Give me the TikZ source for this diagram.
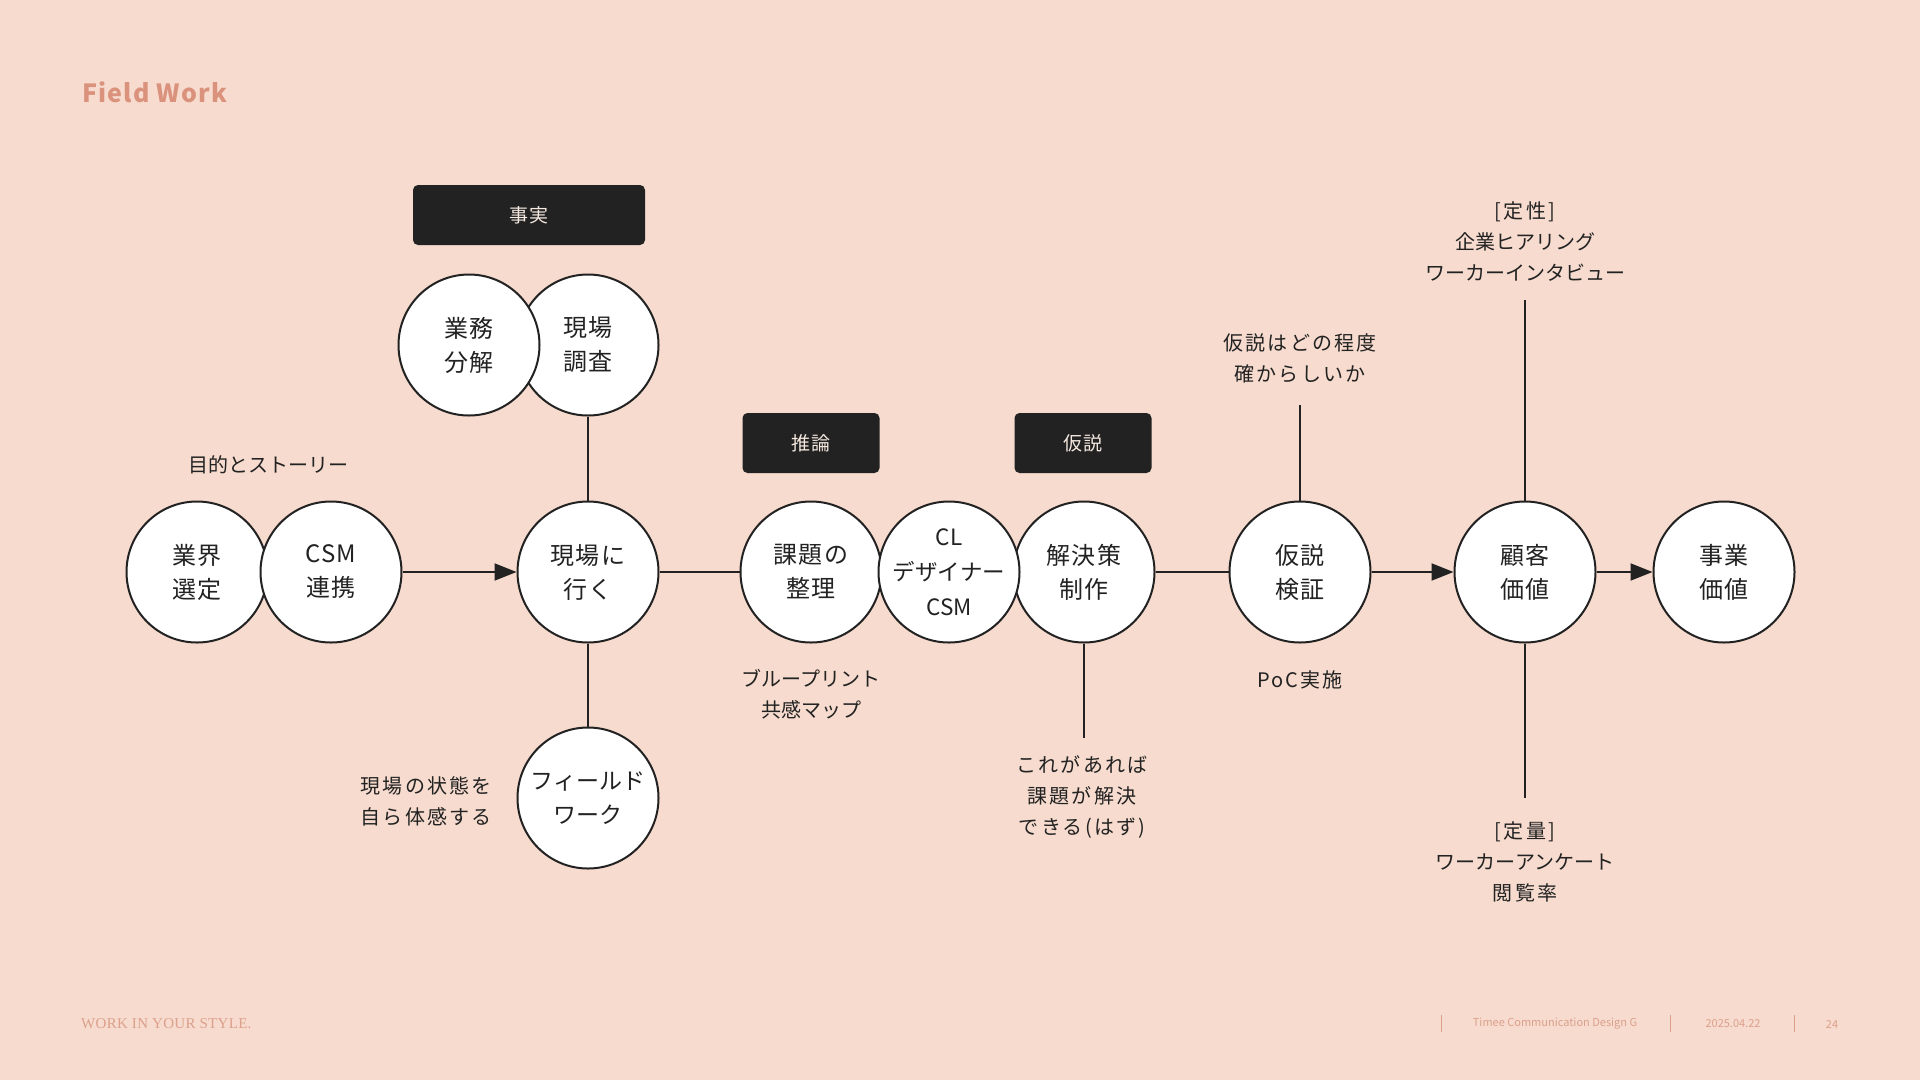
\documentclass[tikz,border=0pt]{standalone}
\usepackage{fontspec}
\usetikzlibrary{arrows.meta}
\setmainfont{Noto Sans CJK JP}
\newfontfamily\jpfont{Noto Sans CJK JP}
\newfontfamily\jpmid[LetterSpace=5]{Noto Sans CJK JP}
\newfontfamily\jpwide[LetterSpace=11]{Noto Sans CJK JP}
\newfontfamily\titlefont[LetterSpace=5]{Noto Sans CJK JP}
\newfontfamily\footserif[LetterSpace=2]{Liberation Serif}
\newfontfamily\footsans{Noto Sans CJK JP}
\definecolor{bg}{HTML}{F6DBCE}
\definecolor{ink}{HTML}{222222}
\definecolor{salmon}{HTML}{DA927C}
\definecolor{footc}{HTML}{DCA08C}
\definecolor{cream}{HTML}{F6E9E0}
\tikzset{
  bubble/.style={circle, draw=ink, fill=white, line width=2pt, minimum size=141pt, inner sep=0pt,
    align=center, text=ink, font=\jpmid\fontsize{24pt}{34pt}\selectfont},
  tagbox/.style={rectangle, rounded corners=5pt, fill=ink, text=cream, inner sep=0pt,
    minimum height=60pt, font=\jpmid\fontsize{19pt}{24pt}\selectfont},
  note/.style={align=center, text=ink, inner sep=0pt, font=\jpfont\fontsize{20pt}{31pt}\selectfont},
  widenote/.style={note, font=\jpwide\fontsize{20pt}{31pt}\selectfont},
  link/.style={draw=ink, line width=2pt},
  flow/.style={link, -{Triangle[length=22pt,width=17pt]}},
  bar/.style={draw=footc, line width=1pt}
}
\begin{document}
\begin{tikzpicture}[x=1pt,y=-1pt]
\fill[bg] (0,0) rectangle (1920,1080);
\useasboundingbox (0,0) rectangle (1920,1080);

% title
\node[anchor=west, text=salmon, inner sep=0pt, font=\titlefont\bfseries\fontsize{25pt}{30pt}\selectfont] (title) at (82,92) {Field Work};

% tags
\node[tagbox, minimum width=232pt] (tagfact) at (529,215) {事実};
\node[tagbox, minimum width=137pt] (tagsuiron) at (811,443) {推論};
\node[tagbox, minimum width=137pt] (tagkasetsu) at (1083,443) {仮説};

% free ends
\coordinate (kaiketsuEnd) at (1084,738);
\coordinate (kasetsuEnd) at (1300,405);
\coordinate (kokyakuTop) at (1525,300);
\coordinate (kokyakuBot) at (1525,798);

% circles
\node[bubble] (gyokai) at (197,572) {業界\\選定};
\node[bubble] (csm) at (331,572) {CSM\\連携};
\node[bubble] (genba) at (588,572) {現場に\\行く};
\node[bubble] (chosa) at (588,345) {現場\\調査};
\node[bubble] (gyomu) at (469,345) {業務\\分解};
\node[bubble, font=\jpfont\fontsize{23pt}{34pt}\selectfont] (field) at (588,798) {フィールド\\ワーク};
\node[bubble] (kadai) at (811,572) {課題の\\整理};
\node[bubble] (kaiketsu) at (1084,572) {解決策\\制作};
\node[bubble, inner sep=-20pt, font=\jpfont\fontsize{22.5pt}{35pt}\selectfont] (cl) at (949,572) {CL\\デザイナー\\CSM};
\node[bubble] (kasetsu) at (1300,572) {仮説\\検証};
\node[bubble] (kokyaku) at (1525,572) {顧客\\価値};
\node[bubble] (jigyo) at (1724,572) {事業\\価値};

% connectors
\draw[flow] (csm) -- (genba);
\draw[link] (genba) -- (kadai);
\draw[link] (genba) -- (chosa);
\draw[link] (genba) -- (field);
\draw[link] (kaiketsu) -- (kasetsu);
\draw[link] (kaiketsu) -- (kaiketsuEnd);
\draw[link] (kasetsu) -- (kasetsuEnd);
\draw[flow] (kasetsu) -- (kokyaku);
\draw[flow] (kokyaku) -- (jigyo);
\draw[link] (kokyaku) -- (kokyakuTop);
\draw[link] (kokyaku) -- (kokyakuBot);

% notes
\node[note] (nstory) at (268,465) {目的とストーリー};
\node[widenote, anchor=east, align=right] (nfeel) at (492,801) {現場の状態を\\自ら体感する};
\node[note] (nblue) at (811,694) {ブループリント\\共感マップ};
\node[widenote] (nkore) at (1082,797) {これがあれば\\課題が解決\\できる(はず)};
\node[widenote] (ntashika) at (1300,358) {仮説はどの程度\\確からしいか};
\node[widenote] (npoc) at (1300,680) {PoC実施};
\node[note] (nteisei) at (1525,242) {{\jpwide [定性]}\\企業ヒアリング\\ワーカーインタビュー};
\node[note] (nteiryo) at (1525,862) {{\jpwide [定量]}\\ワーカーアンケート\\{\jpwide 閲覧率}};

% footer
\node[anchor=west, text=footc, inner sep=0pt, font=\footserif\fontsize{15pt}{18pt}\selectfont] (footl) at (81,1024) {WORK IN YOUR STYLE.};
\draw[bar] (1441,1015) -- (1441,1032);
\draw[bar] (1670,1015) -- (1670,1032);
\draw[bar] (1794,1015) -- (1794,1032);
\node[text=footc, inner sep=0pt, font=\footsans\fontsize{11pt}{13pt}\selectfont] (footorg) at (1555,1024) {Timee Communication Design G};
\node[text=footc, inner sep=0pt, font=\footsans\fontsize{11pt}{13pt}\selectfont] (footdate) at (1733,1024) {2025.04.22};
\node[text=footc, inner sep=0pt, font=\footsans\fontsize{11pt}{13pt}\selectfont] (footpage) at (1832,1024) {24};
\end{tikzpicture}
\end{document}
